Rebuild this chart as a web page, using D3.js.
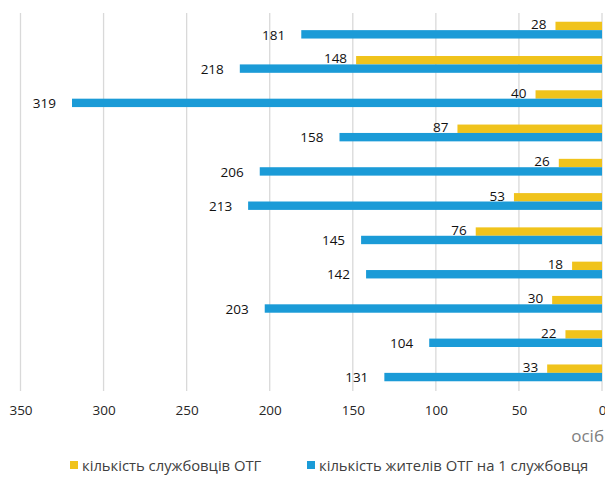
<!DOCTYPE html>
<html>
<head>
<meta charset="utf-8">
<script src="https://cdn.jsdelivr.net/npm/d3@7"></script>
<style>
  body { margin: 0; background: #fff; }
  text { font-family: "Open Sans", sans-serif; }
</style>
</head>
<body>
<div id="chart"></div>
<script>
// data
const groups = ["1", "2", "3", "4", "5", "6", "7", "8", "9", "10", "11"];
const staff = [28, 148, 40, 87, 26, 53, 76, 18, 30, 22, 33];
const residentsPerStaff = [181, 218, 319, 158, 206, 213, 145, 142, 203, 104, 131];
const seriesNames = ["кількість службовців ОТГ", "кількість жителів ОТГ на 1 службовця"];
const xTicks = [0, 50, 100, 150, 200, 250, 300, 350];
const unitLabel = "осіб";

const chartWidth = 605;
const chartHeight = 477;
const colors = ["#f0c31c", "#1b9bd7"];
// label gap from bar end and vertical nudge, per series
const labelGap = [9, 16];
const labelShift = [-1.5, 0.5];

const svg = d3
  .select("#chart")
  .append("svg")
  .attr("width", chartWidth)
  .attr("height", chartHeight);

// scales (reversed: 0 on the right)
const x = d3.scaleLinear().domain([0, 350]).range([602, 20.5]);
const y = d3.scaleBand().domain(groups).range([13, 390]).paddingInner(0).paddingOuter(0);
const ySeries = d3.scaleBand().domain([0, 1]).range([0, y.bandwidth()]).paddingInner(0).paddingOuter(1.04);

// gridlines
svg
  .append("g")
  .attr("class", "grid")
  .selectAll("line")
  .data(xTicks)
  .enter()
  .append("line")
  .attr("x1", (d) => x(d))
  .attr("x2", (d) => x(d))
  .attr("y1", 13)
  .attr("y2", 391)
  .attr("stroke", "#d9d9d9")
  .attr("stroke-width", 1.3);

// x axis labels
const xAxis = svg
  .append("g")
  .attr("transform", "translate(0, 391)")
  .call(d3.axisBottom(x).tickValues(xTicks).tickSize(0).tickPadding(14));
xAxis.select(".domain").remove();
xAxis
  .selectAll("text")
  .style("font-family", "Open Sans, sans-serif")
  .style("font-size", "13.5px")
  .attr("fill", "#262626");

// bars
const rows = groups.map((g, i) => ({ g, values: [staff[i], residentsPerStaff[i]] }));

const groupSel = svg
  .selectAll(".group")
  .data(rows)
  .enter()
  .append("g")
  .attr("class", "group")
  .attr("transform", (d) => `translate(0, ${y(d.g)})`);

groupSel
  .selectAll("rect")
  .data((d) => d.values.map((v, k) => ({ v, k })))
  .enter()
  .append("rect")
  .attr("x", (d) => x(d.v))
  .attr("y", (d) => ySeries(d.k))
  .attr("width", (d) => x(0) - x(d.v))
  .attr("height", ySeries.bandwidth())
  .attr("fill", (d) => colors[d.k]);

// value labels
groupSel
  .selectAll(".label")
  .data((d) => d.values.map((v, k) => ({ v, k })))
  .enter()
  .append("text")
  .attr("class", "label")
  .attr("x", (d) => x(d.v) - labelGap[d.k])
  .attr("y", (d) => ySeries(d.k) + ySeries.bandwidth() / 2 + labelShift[d.k])
  .attr("dy", "0.35em")
  .attr("text-anchor", "end")
  .style("font-size", "13.5px")
  .attr("fill", "#111")
  .text((d) => d.v);

// unit label
svg
  .append("text")
  .attr("x", 604)
  .attr("y", 442)
  .attr("text-anchor", "end")
  .style("font-size", "17px")
  .attr("fill", "#7f7f7f")
  .text(unitLabel);

// legend
const legend = svg.append("g").attr("transform", "translate(0, 466)");
const legendX = [70, 307];
seriesNames.forEach((name, i) => {
  legend
    .append("rect")
    .attr("x", legendX[i])
    .attr("y", -5)
    .attr("width", 8)
    .attr("height", 8)
    .attr("fill", colors[i]);
  legend
    .append("text")
    .attr("x", legendX[i] + 12)
    .attr("y", 0)
    .attr("dy", "0.35em")
    .style("font-size", "14.8px")
    .attr("fill", "#404040")
    .text(name);
});
</script>
</body>
</html>
